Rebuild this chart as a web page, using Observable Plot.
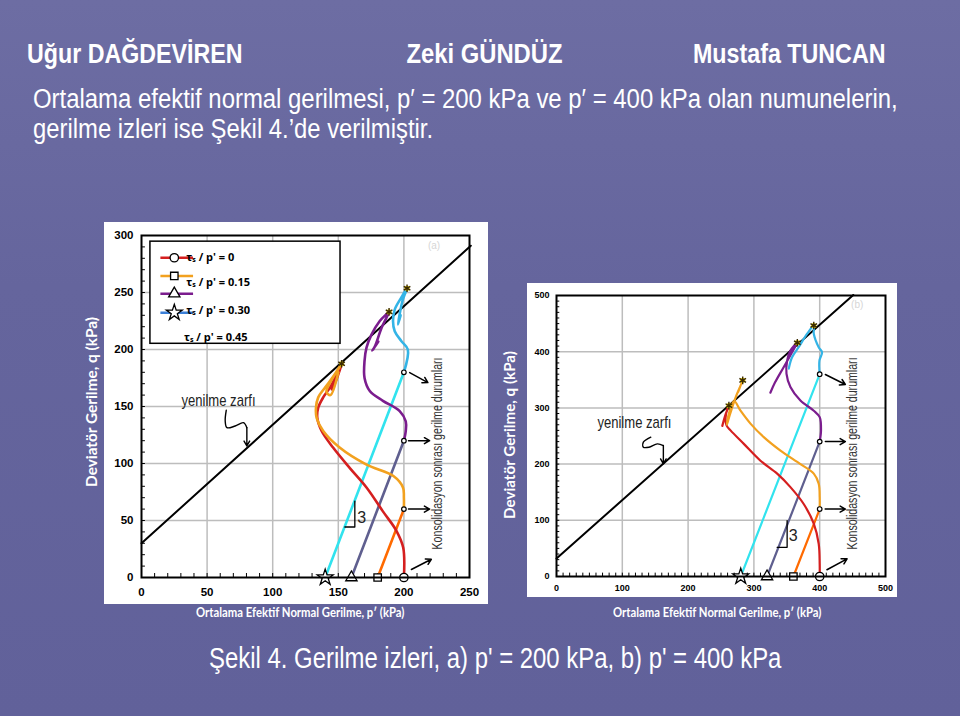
<!DOCTYPE html>
<html><head><meta charset="utf-8">
<script src="https://cdn.jsdelivr.net/npm/d3@7"></script>
<script src="https://cdn.jsdelivr.net/npm/@observablehq/plot@0.6"></script>
<style>
body{margin:0;background:#62629a;}
#slide{position:relative;width:960px;height:716px;overflow:hidden;background:linear-gradient(180deg,#6d6da3 0%,#65659d 40%,#61619a 100%);font-family:"Liberation Sans",Arial,sans-serif;color:#fff;}
.t{position:absolute;white-space:nowrap;line-height:1;}
.hdr{font-size:27px;font-weight:bold;}
.body{font-size:27px;}
.cap{font-size:30px;}
.ax{font-family:Lato,"Open Sans",sans-serif;font-weight:bold;}
#chartA,#chartB{position:absolute;}
#chartA svg,#chartB svg{display:block;}
</style>
</head><body>
<div id="slide">
  <div class="t hdr" id="h0"></div>
  <div class="t hdr" id="h1"></div>
  <div class="t hdr" id="h2"></div>
  <div class="t body" id="b0"></div>
  <div class="t body" id="b1"></div>
  <div id="chartA" style="left:104px;top:222px"></div>
  <div id="chartB" style="left:527px;top:283px"></div>
  <div class="t ax" id="yA" style="font-size:15px"></div>
  <div class="t ax" id="yB" style="font-size:15px"></div>
  <div class="t ax" id="xA" style="font-size:12.5px"></div>
  <div class="t ax" id="xB" style="font-size:12.5px"></div>
  <div class="t cap" id="cap"></div>
</div>
<script>
// ---------- texts ----------
const headerNames = ["Uğur DAĞDEVİREN", "Zeki GÜNDÜZ", "Mustafa TUNCAN"];
const introLines = ["Ortalama efektif normal gerilmesi, p′ = 200 kPa ve p′ = 400 kPa olan numunelerin,",
                    "gerilme izleri ise Şekil 4.’de verilmiştir."];
const yTitle = "Deviatör Gerilme, q (kPa)";
const xTitle = "Ortalama Efektif Normal Gerilme, p′ (kPa)";
const caption = "Şekil 4. Gerilme izleri, a) p' = 200 kPa, b) p' = 400 kPa";
const envelopeLabel = "yenilme zarfı";
const consolLabel = "Konsolidasyon sonrası gerilme durumları";
const legendLabels = ["τₛ / p' = 0", "τₛ / p' = 0.15", "τₛ / p' = 0.30", "τₛ / p' = 0.45"];

// ---------- chart (a): p' = 200 kPa ----------
const xTicksA = [0, 50, 100, 150, 200, 250];
const yTicksA = [0, 50, 100, 150, 200, 250, 300];
const envelopeA = [[0, 30], [251, 291]];
const redA = [[200,0],[199.5,26],[194.3,41],[184,58],[171.5,79],[158.8,96],[146,114],[137.3,128.5],[134,140],[134.7,149],[138.5,158],[143.6,166.5],[148.7,178],[152.5,187.5],[146,170],[145,165],[148,172],[152,185]];
const orangeLineA = [[180,0],[200,60]];
const orangeA = [[200,60],[200,70],[199.3,79],[192,89],[171.5,99],[151,114],[138.5,128.5],[133.5,140],[133,149],[134.7,158],[139.8,166.5],[146,176],[152.5,187.5],[141,163],[144,160],[150,180]];
const slateA = [[160,0],[200,120]];
const purpleA = [[200,120],[201.4,128.5],[201.4,137],[196.8,146],[184,155],[174,163.6],[170,175],[170,190],[171.5,201.6],[175.3,213],[181.6,225],[186.7,231],[188.7,233],[183,219],[178,203],[176,199],[180.5,207]];
const cyanLineA = [[140,0],[200,180]];
const cyanA = [[200,180],[203,200],[198,207.5],[193,216],[191.7,225],[193,235],[198,245.5],[202.4,253.7],[199,243],[195.5,222],[197.5,230]];
const peaksA = [[152.5,187.5],[188.7,233],[202.4,253.7]];
const startA = {circle: 200, square: 180, triangle: 160, star: 140};
const consolA = [[200,60],[200,120],[200,180]];
const arrowsA = [[203.5,60,219.6,60],[203.5,120,219.6,120],[204.4,179.7,218.3,171],[205.7,7,220.9,16]];
const squiggleA = [[64.6,146.7],[63.8,137.3],[65.1,131.4],[71.4,132.9],[77.7,135.8],[80.3,131.4]];
const squiggleTipA = [80.3, 115.4];

// ---------- chart (b): p' = 400 kPa ----------
const xTicksB = [0, 100, 200, 300, 400, 500];
const yTicksB = [0, 100, 200, 300, 400, 500];
const envelopeB = [[0, 32], [451, 501]];
const redB = [[400,0],[400,22],[398.5,58],[391,94],[375.7,129],[355.5,159],[335.4,183],[310,206],[284.7,236],[264.5,260],[258.4,269],[257,283],[259.5,298],[262,304],[256,285],[252,268]];
const orangeLineB = [[360,0],[400,120]];
const orangeB = [[400,120],[400,141],[398.5,165],[391,183],[370.7,200],[340.4,224],[315,248],[294.8,272],[279.7,295],[270,312],[262,290],[259,270],[263,286],[272,318],[278,335],[283,349],[276,328]];
const slateB = [[320,0],[400,240]];
const purpleB = [[400,240],[402,260],[400,283.5],[391,295],[370.7,313],[355.5,337],[349.5,361],[350.5,384],[355.5,402],[365.7,416],[357,397],[345,372],[332,345],[325,327]];
const cyanLineB = [[280,0],[400,360]];
const cyanB = [[400,360],[399.6,384],[403.6,399],[398.5,408],[391,432],[391,446.6],[381,432],[368,408],[358,390],[353,370]];
const peaksB = [[262,304],[283,349],[366,416],[391,446.6]];
const startB = {circle: 400, square: 360, triangle: 320, star: 280};
const consolB = [[400,120],[400,240],[400,360]];
const arrowsB = [[408.3,120,439,120],[408.6,240,439,240],[408.6,359.4,439,341.6],[411,12,441.6,31.5]];
const squiggleB = [[143.3,247.9],[132,239],[132,230],[140.5,230],[153.3,236],[162.4,233]];
const squiggleTipB = [162.4, 200.5];

// ---------- styles ----------
const C = {red:"#d51f1f", orange:"#ff6a00", amber:"#f2a11f", purple:"#7b1d8e", slate:"#5f5f8f",
           cyan:"#31e3ee", sky:"#34b4e6", blue:"#3b7fd8", grid:"#bdbdbd"};
const P = d => d[0], Q = d => d[1];
const SANS = '"Liberation Sans",Arial,sans-serif';

function build(cfg) {
  const sw = cfg.sw;
  const marks = [
    Plot.gridX(cfg.xTicks.slice(1, -1), {stroke: C.grid, strokeOpacity: 1, strokeWidth: 1.5}),
    Plot.gridY(cfg.yTicks.slice(1, -1), {stroke: C.grid, strokeOpacity: 1, strokeWidth: 1.5}),
    Plot.ruleX(d3.range(0, cfg.xMax + 1, 10), {x: d => d, y1: 0, y2: cfg.minorY, stroke: "#000", strokeWidth: 1}),
    Plot.ruleY(d3.range(0, cfg.yMax + 1, 10), {y: d => d, x1: 0, x2: cfg.minorX, stroke: "#000", strokeWidth: 1}),
  ];
  if (cfg.legend) marks.push(...cfg.legend);
  marks.push(
    Plot.line(cfg.envelope, {x: P, y: Q, stroke: "#000", strokeWidth: 2}),
    Plot.line(cfg.cyanLine, {x: P, y: Q, stroke: C.cyan, strokeWidth: sw}),
    Plot.line(cfg.slate, {x: P, y: Q, stroke: C.slate, strokeWidth: sw}),
    Plot.line(cfg.orangeLine, {x: P, y: Q, stroke: C.orange, strokeWidth: sw}),
    Plot.line(cfg.red, {x: P, y: Q, stroke: C.red, strokeWidth: sw, curve: "catmull-rom"}),
    Plot.line(cfg.orange, {x: P, y: Q, stroke: C.amber, strokeWidth: sw, curve: "catmull-rom"}),
    Plot.line(cfg.purple, {x: P, y: Q, stroke: C.purple, strokeWidth: sw, curve: "catmull-rom"}),
    Plot.line(cfg.cyan, {x: P, y: Q, stroke: C.sky, strokeWidth: sw, curve: "catmull-rom"}),
    Plot.dot(cfg.peaks, {x: P, y: Q, r: 2.6, fill: "#e6cf00", stroke: "none"}),
    Plot.dot(cfg.peaks, {x: P, y: Q, r: 3.6, symbol: "asterisk", stroke: "#3a2a00", strokeWidth: 1.4}),
    Plot.dot(cfg.consol, {x: P, y: Q, r: 2.3, fill: "#fff", stroke: "#000", strokeWidth: 1.2}),
    Plot.arrow(cfg.arrows, {x1: d => d[0], y1: d => d[1], x2: d => d[2], y2: d => d[3], stroke: "#000", strokeWidth: 1.5, headLength: 6}),
    Plot.line(cfg.squiggle, {x: P, y: Q, stroke: "#000", strokeWidth: 1.4, curve: "catmull-rom"}),
    Plot.arrow([[...cfg.squiggle[cfg.squiggle.length - 1], ...cfg.squiggleTip]], {x1: d => d[0], y1: d => d[1], x2: d => d[2], y2: d => d[3], stroke: "#000", strokeWidth: 1.4, headLength: 6}),
    Plot.line(cfg.slope, {x: P, y: Q, stroke: "#000", strokeWidth: 1.3}),
    Plot.text([cfg.slopeText], {x: P, y: Q, text: () => "3", fontSize: cfg.fs3, fontWeight: "normal", fontFamily: SANS, fill: "#222", textAnchor: "start"}),
    Plot.text([cfg.envText], {x: P, y: Q, text: () => envelopeLabel, fontSize: cfg.fsEnv, fontWeight: "normal", fontFamily: SANS, fill: "#222"}),
    Plot.text([cfg.consText], {x: P, y: Q, text: () => consolLabel, rotate: -90, fontSize: cfg.fsCons, fontWeight: "normal", fontFamily: SANS, fill: "#333"}),
    Plot.text([cfg.tagText], {x: P, y: Q, text: () => cfg.tag, fontSize: 10, fontWeight: "normal", fill: "#d6d6d6"}),
  );
  for (const [sym, p] of Object.entries(cfg.start)) {
    marks.push(Plot.dot([p], {x: d => d, y: 0, r: sym === "star" ? 5 : 4.2, symbol: sym, fill: "#fff", stroke: "#000", strokeWidth: 1.3}));
  }
  marks.push(
    Plot.frame({stroke: "#000", strokeWidth: 2}),
    Plot.axisX(cfg.xTicks, {tickSize: 0, tickPadding: cfg.padX}),
    Plot.axisY(cfg.yTicks, {tickSize: 0, tickPadding: cfg.padY}),
  );
  const svg = Plot.plot({
    width: cfg.width, height: cfg.height,
    marginLeft: cfg.m[3], marginRight: cfg.m[1], marginTop: cfg.m[0], marginBottom: cfg.m[2],
    x: {domain: [0, cfg.xMax]}, y: {domain: [0, cfg.yMax]},
    style: {background: "#fff", fontFamily: SANS, fontWeight: "bold", fontSize: cfg.fsTick + "px", color: "#000", overflow: "visible"},
    marks
  });
  // condense the narrow-font annotations to the lengths they take in the original
  svg.querySelectorAll("text").forEach(t => {
    const len = t.textContent === consolLabel ? cfg.consLen : t.textContent === envelopeLabel ? cfg.envLen : null;
    if (len) { t.setAttribute("textLength", len); t.setAttribute("lengthAdjust", "spacingAndGlyphs"); }
  });
  return svg;
}

// legend for chart (a), in data units
const legendRowsA = [
  {color: C.red, symbol: "circle", q: 280.5},
  {color: C.amber, symbol: "square", q: 264.5},
  {color: C.purple, symbol: "triangle", q: 249},
  {color: C.blue, symbol: "star", q: 232.3}
];
const legendTextPosA = [[34.2, 281], [34.2, 258.6], [34.2, 234.6], [32.4, 210.4]];
const legendA = [
  Plot.rect([0], {x1: 6.8, x2: 151.7, y1: 205, y2: 294.6, fill: "#fff", stroke: "#000", strokeWidth: 1.5}),
  ...legendRowsA.map(r => Plot.link([r], {x1: 14.4, x2: 39.3, y1: r.q, y2: r.q, stroke: r.color, strokeWidth: 2.5})),
  ...legendRowsA.map(r => Plot.dot([r], {x: 25, y: r.q, symbol: r.symbol, r: r.symbol === "star" ? 5 : 4.2, fill: "#fff", stroke: "#000", strokeWidth: 1.3})),
  Plot.text(legendTextPosA, {x: P, y: Q, text: (d, i) => legendLabels[i], textAnchor: "start", fontSize: 11, fontWeight: "bold", fontFamily: '"Open Sans",Lato,sans-serif'})
];

const chartA = build({
  width: 384, height: 382, m: [13, 19, 27, 37], xMax: 250, yMax: 300,
  xTicks: xTicksA, yTicks: yTicksA, minorX: 3, minorY: 3.5, sw: 2.6,
  envelope: envelopeA, red: redA, orangeLine: orangeLineA, orange: orangeA, slate: slateA, purple: purpleA,
  cyanLine: cyanLineA, cyan: cyanA, peaks: peaksA, start: startA, consol: consolA, arrows: arrowsA,
  squiggle: squiggleA, squiggleTip: squiggleTipA,
  slope: [[155,44.3],[162.6,44.3],[162.6,67]], slopeText: [164.5,52.5], envText: [58.7,154.8],
  consText: [225.7,108.8], tagText: [223,291], tag: "(a)",
  fs3: 16, fsEnv: 17, fsCons: 15, consLen: 192, envLen: 74, fsTick: 11.5, padX: 10, padY: 8, legend: legendA
});
const chartB = build({
  width: 370, height: 314, m: [12, 12, 21, 29], xMax: 500, yMax: 500,
  xTicks: xTicksB, yTicks: yTicksB, minorX: 5, minorY: 6, sw: 2.2,
  envelope: envelopeB, red: redB, orangeLine: orangeLineB, orange: orangeB, slate: slateB, purple: purpleB,
  cyanLine: cyanLineB, cyan: cyanB, peaks: peaksB, start: startB, consol: consolB, arrows: arrowsB,
  squiggle: squiggleB, squiggleTip: squiggleTipB,
  slope: [[335.3,52],[350.5,52],[350.5,99.6]], slopeText: [353,72], envText: [118.4,274.6],
  consText: [449.6,219], tagText: [457,483], tag: "(b)",
  fs3: 16, fsEnv: 17, fsCons: 15, consLen: 192, envLen: 74, fsTick: 9, padX: 8, padY: 7
});
document.getElementById("chartA").append(chartA);
document.getElementById("chartB").append(chartB);

// place the slide texts, condensing them horizontally to the widths they occupy in the original
function place(id, text, x, y, width, anchor, rotate) {
  const el = document.getElementById(id);
  el.textContent = text;
  const k = width / el.offsetWidth;
  if (rotate) {
    el.style.left = x + "px"; el.style.top = y + "px";
    el.style.transform = `translate(-50%,-50%) rotate(-90deg) scaleX(${k})`;
    return;
  }
  const left = anchor === "start" ? x : anchor === "end" ? x - el.offsetWidth : x - el.offsetWidth / 2;
  el.style.left = left + "px"; el.style.top = y + "px";
  el.style.transformOrigin = anchor === "start" ? "left center" : anchor === "end" ? "right center" : "center center";
  el.style.transform = `scaleX(${k})`;
}
place("h0", headerNames[0], 27, 41, 216, "start");
place("h1", headerNames[1], 484, 41, 156, "middle");
place("h2", headerNames[2], 886, 41, 193, "end");
place("b0", introLines[0], 33, 86, 865, "start");
place("b1", introLines[1], 33, 116, 400, "start");
place("cap", caption, 495, 643, 572, "middle");
place("yA", yTitle, 91, 402, 170, "middle", true);
place("yB", yTitle, 509, 435, 168, "middle", true);
place("xA", xTitle, 300, 607, 208, "middle");
place("xB", xTitle, 717, 607, 208, "middle");
</script>
</body></html>
